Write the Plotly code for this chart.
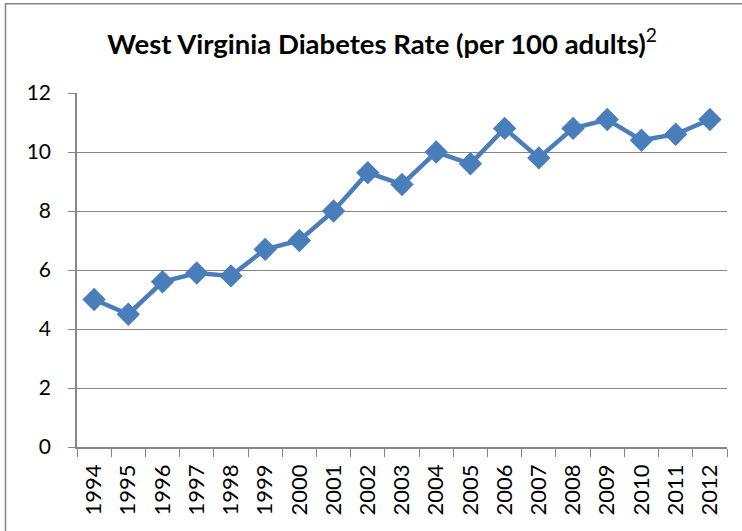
import plotly.graph_objects as go

years = [str(y) for y in range(1994, 2013)]
rates = [5.0, 4.5, 5.6, 5.9, 5.8, 6.7, 7.0, 8.0, 9.3, 8.9, 10.0, 9.6, 10.8, 9.8, 10.8, 11.1, 10.4, 10.6, 11.1]
y_ticks = [0, 2, 4, 6, 8, 10, 12]

title_text = "<b>West Virginia Diabetes Rate (per 100 adults)</b><sup>2</sup>"
blue = "#4a7ebb"
gray = "#868686"
font_family = "Lato, 'Open Sans', sans-serif"

fig = go.Figure()
fig.add_trace(go.Scatter(
    x=years, y=rates, mode="lines+markers",
    line=dict(color=blue, width=4.5),
    marker=dict(symbol="diamond", size=18, color=blue),
    showlegend=False,
))

fig.update_layout(
    width=742, height=531,
    margin=dict(l=77, r=15, t=93, b=84, autoexpand=False),
    paper_bgcolor="white", plot_bgcolor="white",
    title=dict(text=title_text, x=0.515, xanchor="center", y=0.917, yanchor="middle",
               font=dict(family=font_family, size=27.5, color="black")),
    font=dict(family=font_family, color="black"),
    xaxis=dict(type="category", range=[-0.5, len(years) - 0.5], tickangle=-90,
               ticks="outside", tickson="boundaries",
               ticklen=8, tickcolor=gray, showline=True, linecolor=gray, linewidth=1.5,
               showgrid=False, automargin=False, ticklabelstandoff=7,
               tickfont=dict(size=22, family=font_family)),
    yaxis=dict(range=[0, 12], tickvals=y_ticks, ticks="outside", ticklen=7, tickcolor=gray,
               showline=True, linecolor=gray, linewidth=1.5, showgrid=True, gridcolor=gray,
               gridwidth=1, zeroline=False, automargin=False, ticklabelstandoff=13,
               tickfont=dict(size=21, family=font_family)),
    shapes=[dict(type="rect", xref="paper", yref="paper", x0=-0.110, x1=1.2, y0=-0.4, y1=1.252,
                 line=dict(color=gray, width=1.5), fillcolor="rgba(0,0,0,0)", layer="below")],
)

fig.write_html("out.html", config={"displayModeBar": False},
               post_script="document.body.style.margin='0';")
